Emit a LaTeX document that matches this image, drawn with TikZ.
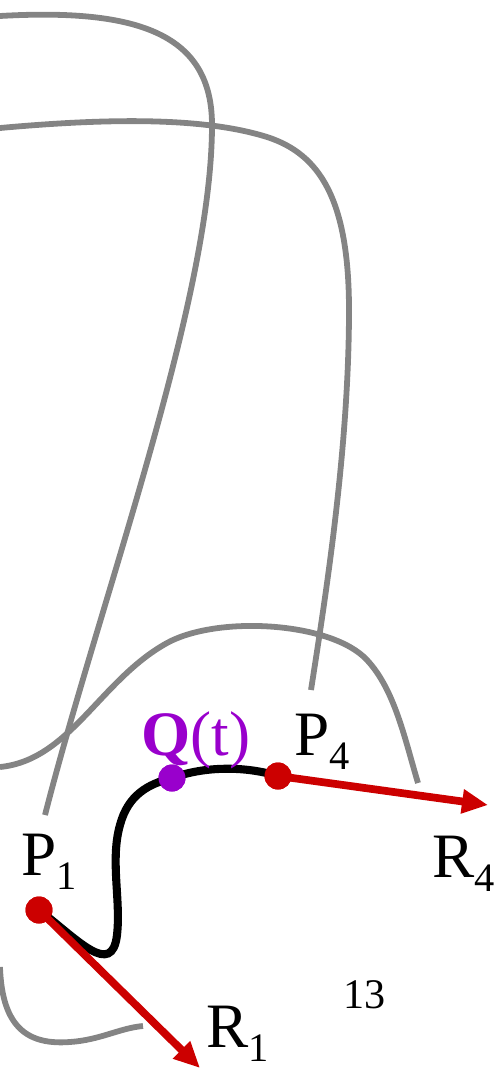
\documentclass[tikz,border=0pt]{standalone}
\usepackage{fontspec}
\setmainfont{Liberation Serif}
\usetikzlibrary{arrows.meta, positioning}
\definecolor{curvegray}{RGB}{132,132,132}
\definecolor{tanred}{RGB}{204,0,0}
\definecolor{ptpurple}{RGB}{153,0,204}
\newcommand{\lowsub}[1]{\raisebox{-8.5pt}{\fontsize{23}{23}\selectfont #1}}

\begin{document}
\begin{tikzpicture}[
	x=0.02cm, y=-0.02cm,
	every node/.style={font=\fontsize{36}{40}\selectfont, inner sep=0pt},
	guide/.style={draw=curvegray, line width=3.3pt},
	hermite/.style={draw=black, line width=4.6pt},
	tangent/.style={-{Triangle[length=0.52cm, width=0.46cm]}, draw=tanred, line width=4.4pt},
	dot/.style={circle, fill=#1, minimum size=0.54cm},
	lbl/.style={anchor=base west}
]
\useasboundingbox (0,0) rectangle (496,1068);

% Neighbouring segments (grey)
\draw[guide] (0,16) .. controls (140,8) and (212,35) .. (212,125)
	.. controls (212,300) and (100,600) .. (45,815);
\draw[guide] (0,128) .. controls (100,119) and (200,116) .. (267,137)
	.. controls (320,154) and (349,200) .. (349,310)
	.. controls (349,450) and (325,600) .. (311,690);
\draw[guide] (0,767) .. controls (70,760) and (100,680) .. (167,643)
	.. controls (218,615) and (332,622) .. (367,660)
	.. controls (395,690) and (405,740) .. (418,783);
\draw[guide] (0,967) .. controls (2,1030) and (30,1045) .. (70,1042)
	.. controls (100,1040) and (120,1028) .. (143,1026);

% Control points and tangent ends
\node[dot=tanred] (p1) at (39,910) {};
\node[dot=tanred] (p4) at (278,776) {};
\node[dot=ptpurple] (q) at (172,778) {};
\coordinate (r1end) at (200,1068);
\coordinate (r4end) at (488,805);

% Curve P1 -> Q(t) -> P4
\draw[hermite] (p1.center) .. controls (78,940) and (112,978) .. (117,935)
	.. controls (121,900) and (110,860) .. (120,825)
	.. controls (128,795) and (148,784) .. (q.center)
	.. controls (205,766) and (245,766) .. (p4.center);

% Tangent vectors
\draw[tangent] (p1.center) -- (r1end);
\draw[tangent] (p4.center) -- (r4end);

% Dots again on top
\node[dot=tanred] at (p1) {};
\node[dot=tanred] at (p4) {};
\node[dot=ptpurple] at (q) {};

% Labels
\node[lbl] (p1lbl) at (21,875) {P\lowsub{1}};
\node[lbl] (p4lbl) at (294,755) {P\lowsub{4}};
\node[lbl, text=ptpurple] (qlbl) at (141,755) {\textbf{Q}(t)};
\node[lbl] (r4lbl) at (432,877) {R\lowsub{4}};
\node[lbl] (r1lbl) at (206,1047) {R\lowsub{1}};
\node[lbl, font=\fontsize{24}{26}\selectfont] (pagenum) at (343,1008) {13};

\end{tikzpicture}
\end{document}
